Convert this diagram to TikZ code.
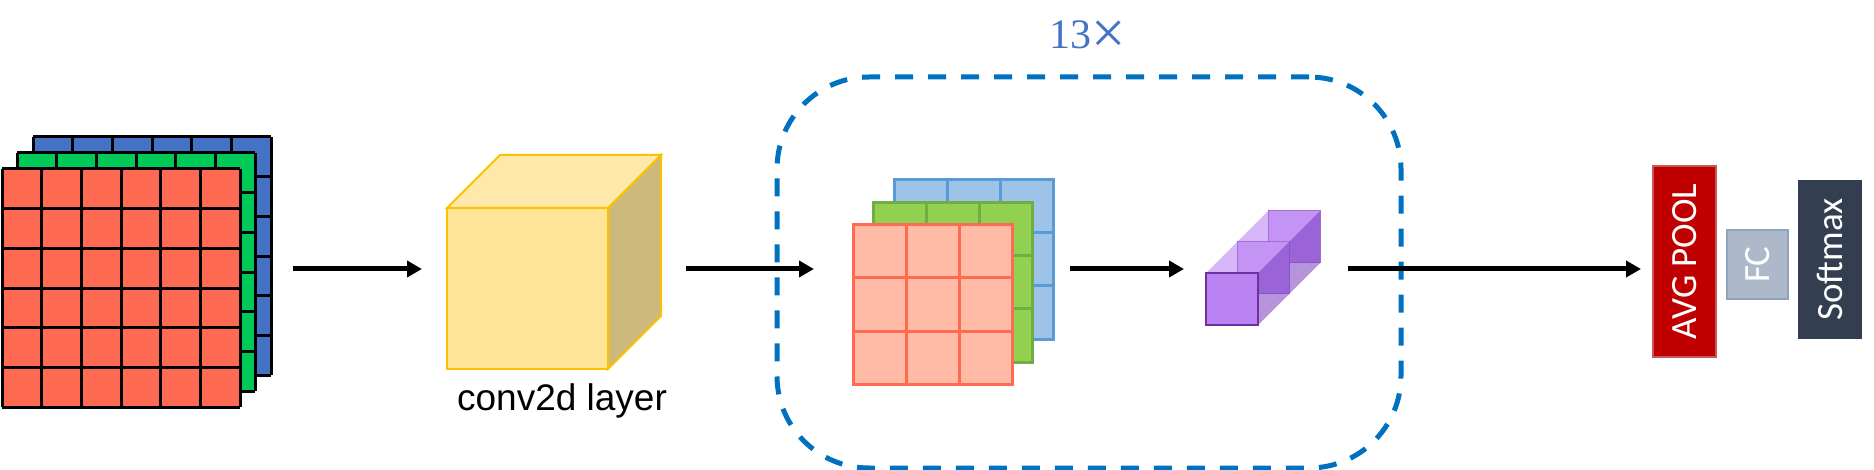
\documentclass[tikz,border=0pt]{standalone}
\usepackage{fontspec}
\usepackage{graphicx}
\newfontfamily\arialf{Liberation Sans}
\newfontfamily\calibf{Carlito}
\newfontfamily\serff{Liberation Serif}
\usetikzlibrary{arrows.meta}
\definecolor{inred}{HTML}{FF6B52}
\definecolor{ingreen}{HTML}{00C957}
\definecolor{inblue}{HTML}{4472C4}
\definecolor{cubefront}{HTML}{FFE598}
\definecolor{cubetop}{HTML}{FFE9AA}
\definecolor{cubeside}{HTML}{CDB97B}
\definecolor{cubeline}{HTML}{FFC000}
\definecolor{fmred}{HTML}{FFBBA6}
\definecolor{fmredline}{HTML}{FF6A50}
\definecolor{fmgreen}{HTML}{92D050}
\definecolor{fmgreenline}{HTML}{70AD47}
\definecolor{fmblue}{HTML}{9DC3E6}
\definecolor{fmblueline}{HTML}{5B9BD5}
\definecolor{loopblue}{HTML}{0070C0}
\definecolor{replbl}{HTML}{4472C4}
\definecolor{purpfront}{HTML}{B983F2}
\definecolor{purpline}{HTML}{7030A0}
\definecolor{purpback}{HTML}{C494F5}
\definecolor{purpthin}{HTML}{A070D8}
\definecolor{purptop}{HTML}{C8A0F5}
\definecolor{purpside}{HTML}{783CBE}
\definecolor{poolred}{HTML}{C00000}
\definecolor{poolline}{HTML}{C55A5A}
\definecolor{fcfill}{HTML}{ADB9CA}
\definecolor{fcline}{HTML}{8FA3BE}
\definecolor{smfill}{HTML}{333F50}
\begin{document}
\begin{tikzpicture}[x=1pt,y=-1pt,
  conn/.style={line width=5pt,-{Triangle[length=15pt,width=16pt]}},
  gridline/.style={line width=3pt,black},
  cubeface/.style={draw=cubeline,line width=2pt,line join=miter},
  loopbox/.style={draw=loopblue,line width=5pt,rounded corners=92pt,dash pattern=on 18pt off 15pt,inner sep=0pt},
  headblock/.style={rotate=90,inner sep=0pt,text=white,font=\calibf\fontsize{37}{40}\selectfont,line width=2pt},
  ]
\useasboundingbox (0,0) rectangle (1874,470);

% input volume
\foreach \ox/\oy/\col in {31/-32/inblue, 15/-16/ingreen, 0/0/inred} {
  \fill[\col] (2+\ox,169+\oy) rectangle ++(238,238);
  \foreach \i in {0,...,6} {
    \draw[gridline] (2+\ox+\i*39.667,169+\oy) -- ++(0,238);
    \draw[gridline] (2+\ox,169+\oy+\i*39.667) -- ++(238,0);
  }
}
\node[inner sep=0pt,minimum width=270pt,minimum height=270pt] (input) at (136,272) {};

% conv2d cube
\filldraw[cubeface,fill=cubetop] (447,208) -- (500,155) -- (661,155) -- (608,208) -- cycle;
\filldraw[cubeface,fill=cubeside] (608,208) -- (661,155) -- (661,316) -- (608,369) -- cycle;
\filldraw[cubeface,fill=cubefront] (447,208) rectangle (608,369);
\node[font=\arialf\fontsize{37}{40}\selectfont,anchor=base,inner sep=0pt] (convlbl) at (562,410) {conv2d layer};

% loop box
\node[loopbox,minimum width=624pt,minimum height=391pt] (loop) at (1089,272.5) {};
\node[text=replbl,font=\serff\fontsize{42}{46}\selectfont,inner sep=0pt,anchor=base] (rep) at (1088,49) {13\raisebox{-0.1em}{\scalebox{1.45}{×}}};

% feature maps inside
\foreach \ox/\oy/\fc/\lc in {41/-45/fmblue/fmblueline, 20/-22/fmgreen/fmgreenline, 0/0/fmred/fmredline} {
  \filldraw[fill=\fc,draw=\lc,line width=3pt] (853+\ox,225+\oy) rectangle ++(159,159);
  \foreach \i in {1,2} {
    \draw[\lc,line width=3pt] (853+\ox+\i*53,225+\oy) -- ++(0,159);
    \draw[\lc,line width=3pt] (853+\ox,225+\oy+\i*53) -- ++(159,0);
  }
}

% purple blocks
\fill[purptop,opacity=0.75] (1206,273) -- (1268,211) -- (1320,211) -- (1258,273) -- cycle;
\filldraw[fill=purpback,draw=purpthin,line width=1pt] (1268,211) rectangle ++(52,52);
\filldraw[fill=purpback,draw=purpthin,line width=1pt] (1237,242) rectangle ++(52,52);
\fill[purpside,opacity=0.55] (1258,273) -- (1320,211) -- (1320,263) -- (1258,325) -- cycle;
\filldraw[fill=purpfront,draw=purpline,line width=2.5pt] (1206,273) rectangle ++(52,52);

% head blocks
\node[headblock,fill=poolred,draw=poolline,minimum width=191pt,minimum height=63pt] (pool) at (1684.5,261.5) {AVG POOL};
\node[headblock,fill=fcfill,draw=fcline,minimum width=69pt,minimum height=61pt] (fc) at (1757.5,264.5) {FC};
\node[headblock,fill=smfill,draw=smfill,minimum width=157pt,minimum height=62pt] (soft) at (1830,259.5) {Softmax};

% connectors
\coordinate (a1s) at (293,269);
\coordinate (a1e) at (422,269);
\coordinate (a2s) at (686,269);
\coordinate (a2e) at (814,269);
\coordinate (a3s) at (1070,269);
\coordinate (a3e) at (1184,269);
\coordinate (a4s) at (1348,269);
\coordinate (a4e) at (1641,269);
\draw[conn] (a1s) -- (a1e);
\draw[conn] (a2s) -- (a2e);
\draw[conn] (a3s) -- (a3e);
\draw[conn] (a4s) -- (a4e);
\end{tikzpicture}
\end{document}
